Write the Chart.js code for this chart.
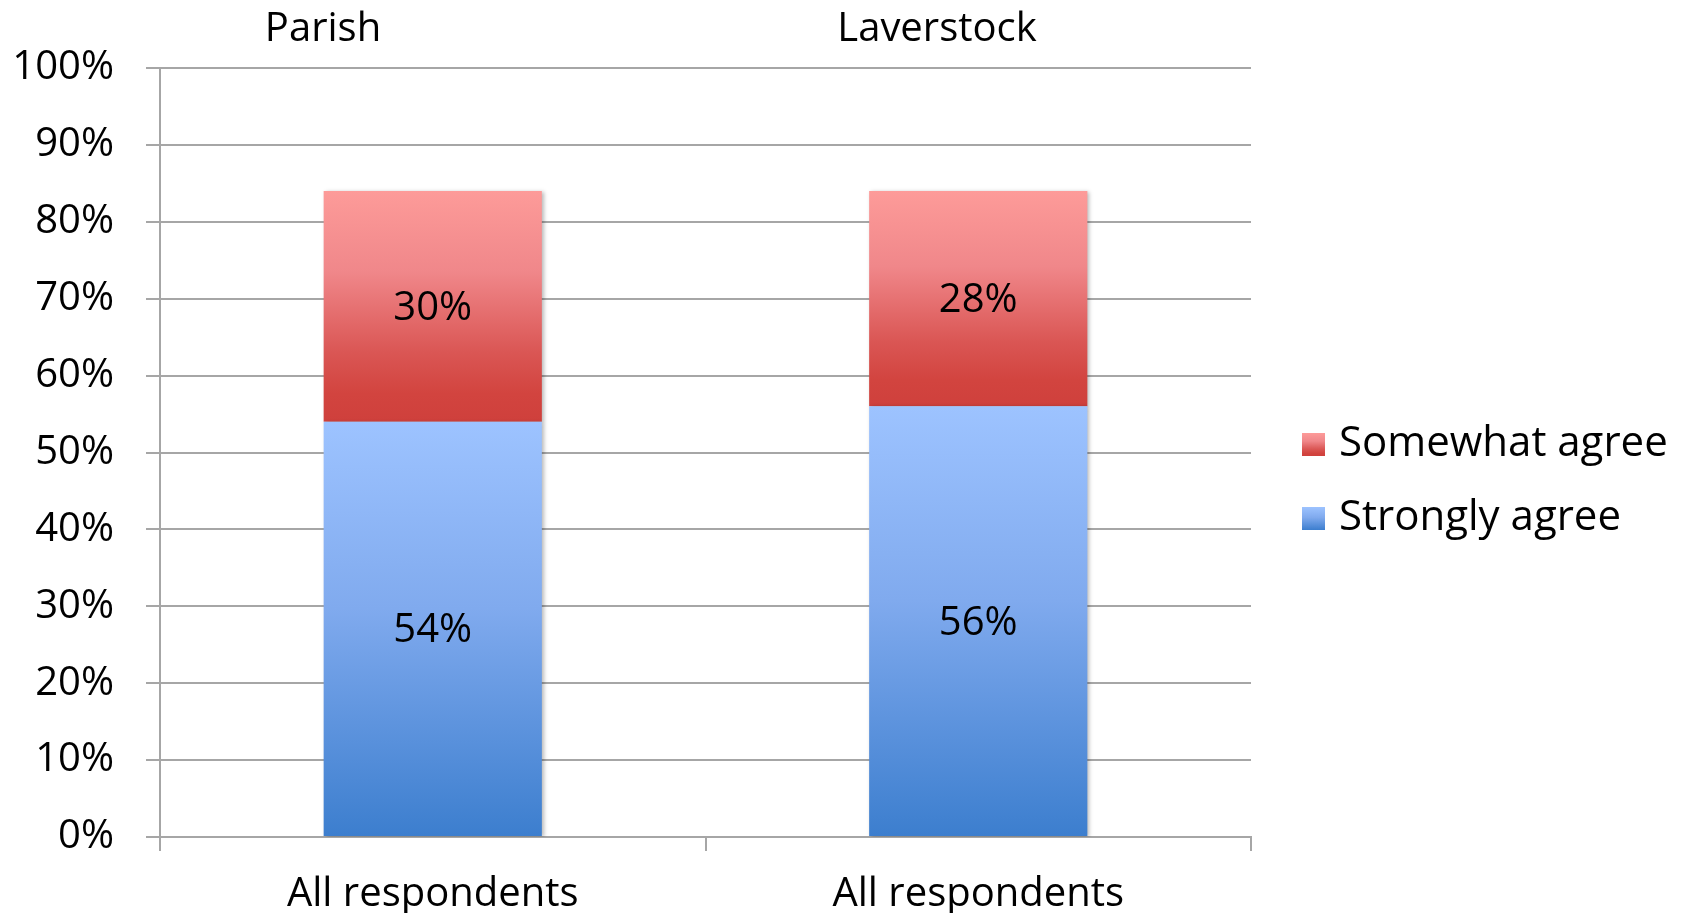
<!DOCTYPE html>
<html>
<head>
<meta charset="utf-8">
<script src="https://cdn.jsdelivr.net/npm/chart.js@4.4.1/dist/chart.umd.min.js"></script>
<style>
    html, body { margin: 0; padding: 0; background: #fff; }
    .wrap { position: relative; width: 1684px; height: 913px; }
    .group-label {
        position: absolute;
        top: 0;
        font-family: "Open Sans", sans-serif;
        font-size: 40px;
        line-height: 52px;
        color: #000;
        transform: translateX(-50%);
        white-space: nowrap;
    }
</style>
</head>
<body>
<div class="wrap">
    <canvas id="agreeChart" width="1684" height="913"></canvas>
    <div class="group-label" id="groupLabel0" style="left:323px"></div>
    <div class="group-label" id="groupLabel1" style="left:937px"></div>
</div>
<script>
// Chart data
const groupLabels = ['Parish', 'Laverstock'];
const categories = ['All respondents', 'All respondents'];
const seriesNames = ['Strongly agree', 'Somewhat agree'];
const stronglyAgree = [54, 56];
const somewhatAgree = [30, 28];
const yTicks = [0, 10, 20, 30, 40, 50, 60, 70, 80, 90, 100];

const FONT = '"Open Sans", sans-serif';
const FONT_SIZE = 40;
const LEGEND_SIZE = 42;

// gradient stops per series (top -> bottom of each segment)
const blueStops = [[0, '#9DC3FF'], [0.45, '#80AAEE'], [1, '#3C7ECE']];
const redStops = [[0, '#FD9B99'], [0.35, '#F0878A'], [0.7, '#DA5654'], [0.88, '#D2443F'], [1, '#CF403C']];

groupLabels.forEach((txt, i) => {
    document.getElementById('groupLabel' + i).textContent = txt;
});

function segmentGradient(context, stops) {
    const chart = context.chart;
    if (!chart.chartArea || context.type !== 'data') return stops[stops.length - 1][1];
    const yScale = chart.scales.y;
    const i = context.dataIndex;
    let start = 0;
    for (let k = 0; k < context.datasetIndex; k++) {
        start += chart.data.datasets[k].data[i];
    }
    const end = start + chart.data.datasets[context.datasetIndex].data[i];
    const top = yScale.getPixelForValue(end);
    const bottom = yScale.getPixelForValue(start);
    const g = chart.ctx.createLinearGradient(0, top, 0, bottom);
    stops.forEach(s => g.addColorStop(s[0], s[1]));
    return g;
}

// gradient swatch used as legend marker (drawn inside a wider transparent canvas
// so the square sits close to the legend text)
function legendSwatch(stops) {
    const c = document.createElement('canvas');
    c.width = 99;
    c.height = 23;
    const cx = c.getContext('2d');
    const g = cx.createLinearGradient(0, 0, 0, 23);
    stops.forEach(s => g.addColorStop(s[0], s[1]));
    cx.fillStyle = g;
    cx.fillRect(51, 0, 23, 23);
    return c;
}

const swatches = [legendSwatch(blueStops), legendSwatch(redStops)];

// value labels in the middle of each segment
const segmentLabels = {
    id: 'segmentLabels',
    afterDatasetsDraw(chart) {
        const ctx = chart.ctx;
        ctx.save();
        ctx.font = FONT_SIZE + 'px ' + FONT;
        ctx.fillStyle = '#000';
        ctx.textAlign = 'center';
        ctx.textBaseline = 'middle';
        chart.data.datasets.forEach((ds, di) => {
            const meta = chart.getDatasetMeta(di);
            meta.data.forEach((bar, i) => {
                ctx.fillText(ds.data[i] + '%', bar.x, (bar.y + bar.base) / 2 + 2);
            });
        });
        ctx.restore();
    }
};

// soft shadow on bars
const barShadow = {
    id: 'barShadow',
    beforeDatasetsDraw(chart) {
        const ctx = chart.ctx;
        ctx.save();
        ctx.shadowColor = 'rgba(0,0,0,0.28)';
        ctx.shadowBlur = 4;
        ctx.shadowOffsetX = 2;
        ctx.shadowOffsetY = 1;
    },
    afterDatasetsDraw(chart) {
        chart.ctx.restore();
    }
};

new Chart(document.getElementById('agreeChart'), {
    type: 'bar',
    data: {
        labels: categories,
        datasets: [
            {
                label: seriesNames[0],
                data: stronglyAgree,
                backgroundColor: c => segmentGradient(c, blueStops),
                borderWidth: 0,
                categoryPercentage: 1,
                barPercentage: 0.4
            },
            {
                label: seriesNames[1],
                data: somewhatAgree,
                backgroundColor: c => segmentGradient(c, redStops),
                borderWidth: 0,
                categoryPercentage: 1,
                barPercentage: 0.4
            }
        ]
    },
    options: {
        responsive: false,
        animation: false,
        layout: {
            padding: { top: 50, right: 16, bottom: 0, left: 0 }
        },
        plugins: {
            tooltip: { enabled: false },
            // empty spacer above the plot, not full width so the legend keeps the full height
            title: {
                display: true,
                text: '',
                fullSize: false,
                font: { size: 10, lineHeight: 1 },
                padding: { top: 4, bottom: 4 }
            },
            legend: {
                position: 'right',
                labels: {
                    usePointStyle: true,
                    pointStyleWidth: 35,
                    padding: 32,
                    color: '#000',
                    font: { family: FONT, size: LEGEND_SIZE },
                    generateLabels: function (chart) {
                        return chart.data.datasets.map((ds, i) => ({
                            text: ds.label,
                            pointStyle: swatches[i],
                            fillStyle: i === 0 ? '#6FA0E8' : '#E06A68',
                            strokeStyle: 'transparent',
                            lineWidth: 0,
                            datasetIndex: i
                        })).reverse();
                    }
                }
            }
        },
        scales: {
            x: {
                stacked: true,
                offset: true,
                grid: {
                    offset: true,
                    drawOnChartArea: false,
                    color: '#A6A6A6',
                    lineWidth: 2,
                    tickLength: 14
                },
                border: { color: '#A6A6A6', width: 2 },
                ticks: {
                    color: '#000',
                    padding: 20,
                    maxRotation: 0,
                    font: { family: FONT, size: FONT_SIZE }
                },
                afterFit: function (scale) {
                    scale.height = 76;
                }
            },
            y: {
                stacked: true,
                min: 0,
                max: 100,
                afterBuildTicks: function (scale) {
                    scale.ticks = yTicks.map(v => ({ value: v }));
                },
                grid: {
                    color: '#A6A6A6',
                    lineWidth: 2,
                    tickLength: 14
                },
                border: { color: '#A6A6A6', width: 2 },
                ticks: {
                    color: '#000',
                    padding: 32,
                    font: { family: FONT, size: FONT_SIZE },
                    callback: function (value) {
                        return value + '%';
                    }
                },
                afterFit: function (scale) {
                    scale.width = 160;
                }
            }
        }
    },
    plugins: [barShadow, segmentLabels]
});
</script>
</body>
</html>
